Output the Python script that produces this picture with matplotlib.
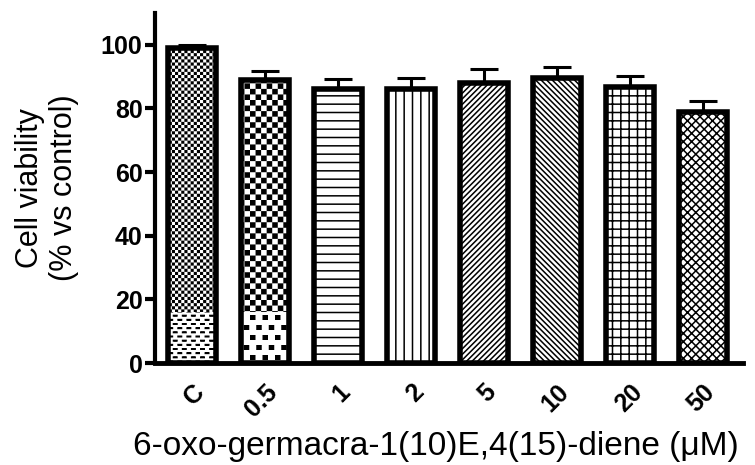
import numpy as np
import matplotlib
matplotlib.use('Agg')
import matplotlib.pyplot as plt
import matplotlib.hatch as mhatch
from matplotlib.path import Path

# ---------------- data ----------------
categories = ['C', '0.5', '1', '2', '5', '10', '20', '50']
viability = [99.0, 89.0, 86.0, 86.2, 88.1, 89.5, 86.8, 78.9]
sem = [0.8, 2.9, 3.2, 3.3, 4.3, 3.5, 3.5, 3.6]
yticks = [0, 20, 40, 60, 80, 100]

# ---------------- style ----------------
hatches = ['*', '**', '--', '||', '//////', '\\\\\\\\\\\\', '++', 'xxxx']
band_hatches = {0: 'O', 1: 'OO'}   # lighter texture in the lowest part of the first bars
BAND_TOP = 16.0
HATCH_LW = 1.1

plt.rcParams['hatch.linewidth'] = HATCH_LW
plt.rcParams['font.family'] = ['Liberation Sans', 'DejaVu Sans']


class BlockHatch(mhatch.HatchPatternBase):
    """Checkerboard / staggered block textures."""
    SPECS = {('*', 1): (16, 32, 1 / 32, 1 / 32),
             ('*', 2): (9, 18, 1 / 18, 1 / 18),
             ('O', 1): (11, 24, 0.05, 0.02),
             ('O', 2): (8, 10, 0.055, 0.05)}

    def __init__(self, hatch, density):
        spec = None
        for ch in '*O':
            n = hatch.count(ch)
            if n:
                spec = self.SPECS.get((ch, n))
        self.rects = []
        if spec:
            ncols, nrows, w, h = spec
            shrink = HATCH_LW / 72.0
            w2 = max(w - shrink, 0.0)
            h2 = max(h - shrink, 0.0)
            for r in range(nrows):
                y0 = r / nrows + (h - h2) / 2
                off = (r % 2) * 0.5 / ncols
                for c in range(ncols):
                    x0 = c / ncols + off + (w - w2) / 2
                    self.rects.append((x0, y0, x0 + w2, y0 + h2))
        self.num_vertices = 5 * len(self.rects)

    def set_vertices_and_codes(self, vertices, codes):
        for i, (x0, y0, x1, y1) in enumerate(self.rects):
            vertices[5 * i:5 * i + 5] = [(x0, y0), (x1, y0), (x1, y1), (x0, y1), (x0, y0)]
            codes[5 * i:5 * i + 5] = [Path.MOVETO, Path.LINETO, Path.LINETO,
                                      Path.LINETO, Path.CLOSEPOLY]


mhatch._hatch_types = [mhatch.HorizontalHatch, mhatch.VerticalHatch,
                       mhatch.NorthEastHatch, mhatch.SouthEastHatch, BlockHatch]

# ---------------- figure ----------------
fig = plt.figure(figsize=(7.55, 4.65), dpi=100)
ax = fig.add_axes([155 / 755, 1 - 363 / 465, (743 - 155) / 755, (363 - 13) / 465])

x = np.arange(len(categories))
W = 0.66

bars = ax.bar(x, viability, W, color='white', edgecolor='black', linewidth=0, zorder=2)
for b, h in zip(bars, hatches):
    b.set_hatch(h)

band_idx = list(band_hatches)
band = ax.bar(x[band_idx], [BAND_TOP] * len(band_idx), W, color='white',
              edgecolor='black', linewidth=0, zorder=2.1)
for b, i in zip(band, band_idx):
    b.set_hatch(band_hatches[i])

ax.bar(x, viability, W, fill=False, edgecolor='black', linewidth=4, zorder=2.2)
ax.errorbar(x, viability, yerr=[np.zeros(len(sem)), sem], fmt='none',
            ecolor='black', elinewidth=2.2, capsize=10, capthick=2.2, zorder=2.3)

ax.set_xlim(-0.51, 7.55)
ax.set_ylim(0, 110)
ax.spines[['top', 'right']].set_visible(False)
ax.spines['left'].set_linewidth(3)
ax.spines['bottom'].set_linewidth(3.5)

ax.set_yticks(yticks)
ax.tick_params(axis='y', length=7, width=3, pad=2, labelsize=18)
for lbl in ax.get_yticklabels():
    lbl.set_fontweight('bold')

ax.set_xticks(x, categories, rotation=45, ha='right', va='top',
              rotation_mode='anchor', fontsize=18, fontweight='bold')
ax.tick_params(axis='x', length=0, pad=12)

ax.set_ylabel('Cell viability\n(% vs control)', fontsize=22, linespacing=1.2)
ax.yaxis.set_label_coords(-0.129, 0.5)
ax.set_xlabel('6-oxo-germacra-1(10)E,4(15)-diene (μM)', fontsize=24)
ax.xaxis.set_label_coords(0.478, -0.194)

fig.savefig('out.png', dpi=100)
